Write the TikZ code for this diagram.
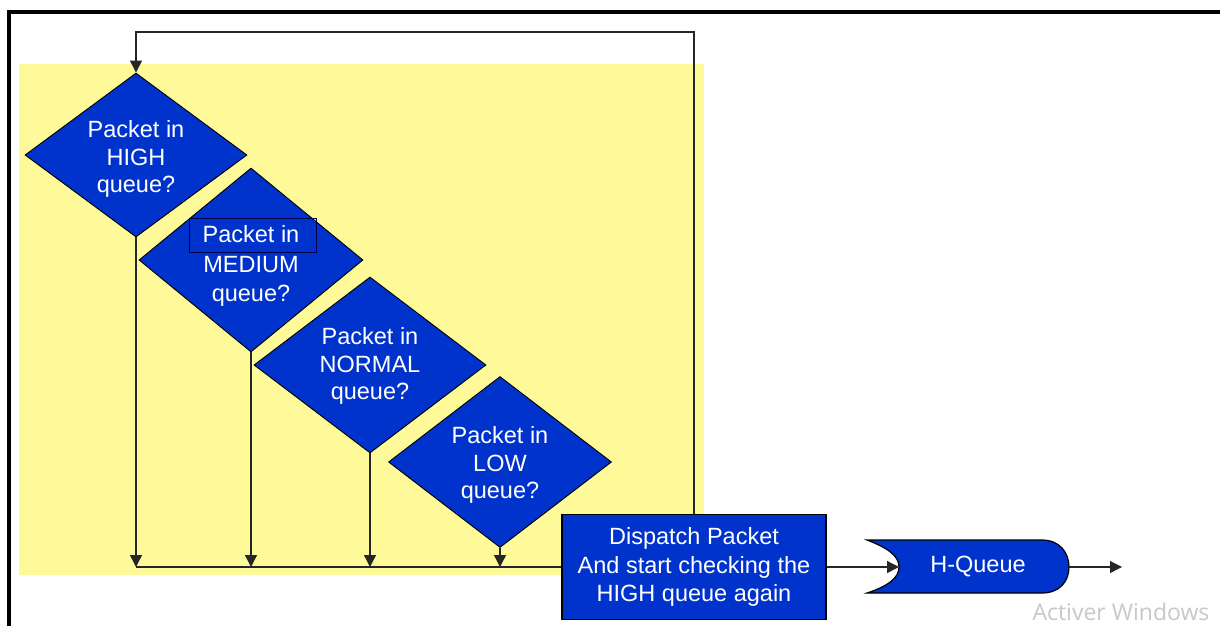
\documentclass[tikz,border=0pt]{standalone}
\usepackage{fontspec}
\setmainfont{Liberation Sans}
\newfontfamily\wmfont{Open Sans}
\usetikzlibrary{shapes.geometric,arrows.meta}
\definecolor{qblue}{RGB}{0,51,204}
\definecolor{qyellow}{RGB}{255,250,153}
\definecolor{wmgray}{RGB}{200,200,200}
\begin{document}
\begin{tikzpicture}[x=1pt,y=-1pt,
  decision/.style={diamond, draw=black, line width=0.9pt, fill=qblue,
    inner sep=0pt, aspect=1.35},
  dtext/.style={text=white, align=center, font=\fontsize{23.5}{27.5}\selectfont},
  process/.style={rectangle, draw=black, line width=1.2pt, fill=qblue, text=white,
    align=center, minimum width=264pt, minimum height=105pt, inner sep=0pt,
    font=\fontsize{23.5}{28.5}\selectfont},
  flow/.style={line width=1.3pt, draw=black!85},
  tip/.style={-{Triangle[length=12pt,width=12pt]}},
]
\useasboundingbox (0,0) rectangle (1220,625);
\fill[white] (0,0) rectangle (1220,625);

% page frame
\draw[line width=4pt] (1220,12) -- (9,12) -- (9,627);

% scheduler area
\fill[qyellow] (19,64) rectangle (704,575);

% decisions
\node[decision, minimum width=222pt, minimum height=164pt,
  label={[dtext, yshift=-4pt]center:Packet in\\HIGH\\queue?}] (high) at (136,155) {};
\node[decision, minimum width=224pt, minimum height=184pt,
  label={[dtext, yshift=-6pt, font=\fontsize{23.5}{29.5}\selectfont]center:Packet in\\MEDIUM\\queue?}] (medium) at (251,260) {};
\node[decision, minimum width=232pt, minimum height=176pt,
  label={[dtext, yshift=-1pt]center:Packet in\\NORMAL\\queue?}] (normal) at (370,365) {};
\node[decision, minimum width=223pt, minimum height=171pt,
  label={[dtext, yshift=-3pt]center:Packet in\\LOW\\queue?}] (low) at (500,462) {};
\draw[draw=black!70!blue, line width=0.8pt] (189,218) rectangle (316,252);

% dispatch step
\node[process] (disp) at (694,567) {Dispatch Packet\\And start checking the\\HIGH queue again};

% output queue
\coordinate (hqin) at (899,567);
\coordinate (hqout) at (1069,567);
\fill[qblue, draw=black, line width=1.2pt]
  (867,540) -- (1042,540) .. controls (1060,540) and (1069,553) .. (hqout)
  .. controls (1069,581) and (1060,593) .. (1042,593) -- (867,593)
  .. controls (888,586) and (899,578) .. (hqin)
  .. controls (899,556) and (888,548) .. cycle;
\node[text=white, font=\fontsize{23.5}{27}\selectfont] (hq) at (978,567) {H-Queue};
\coordinate (sink) at (1122,567);

% connectors
\coordinate (looptop) at (0,32);
\draw[flow,tip] (high.south) -- (high.south |- disp.west);
\draw[flow,tip] (medium.south) -- (medium.south |- disp.west);
\draw[flow,tip] (normal.south) -- (normal.south |- disp.west);
\draw[flow,tip] (low.south) -- (low.south |- disp.west);
\draw[flow] (high.south |- disp.west) -- (disp.west);
\draw[flow,tip] (disp.north) -- (disp.north |- looptop) -- (high.north |- looptop) -- (high.north);
\draw[flow,tip] (disp.east) -- (hqin);
\draw[flow,tip] (hqout) -- (sink);

% watermark
\node[font=\wmfont\fontsize{23}{23}\selectfont, text=wmgray, anchor=base] (wm) at (1121,620) {Activer Windows};
\end{tikzpicture}
\end{document}
